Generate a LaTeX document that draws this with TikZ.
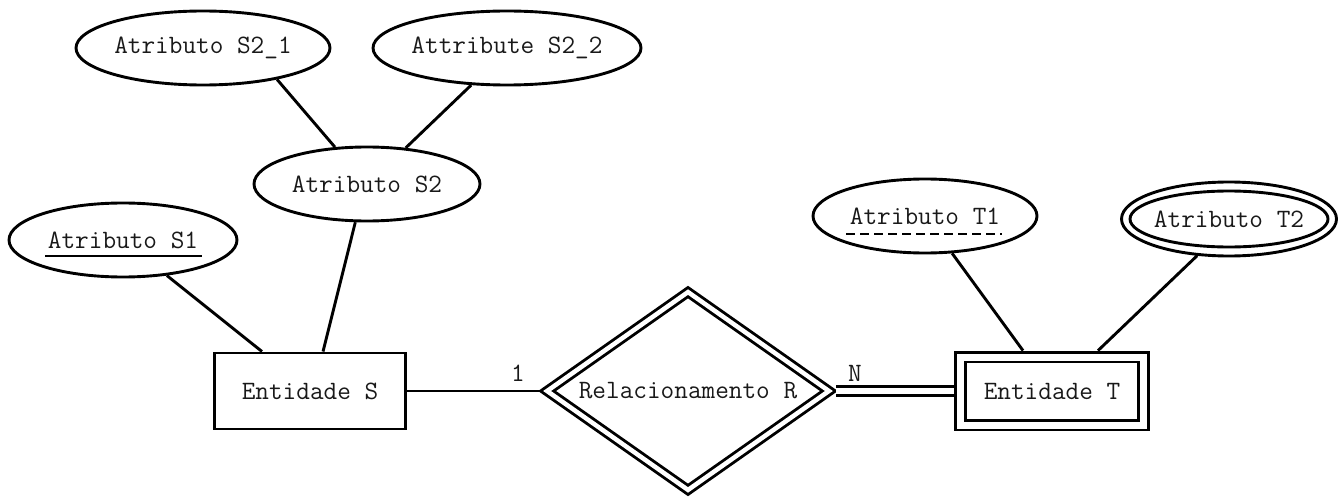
\documentclass[tikz,border=0pt]{standalone}
\usetikzlibrary{shapes.geometric}
\begin{document}
\begin{tikzpicture}[x=1pt,y=-1pt,
  lw/.style={line width=2.9pt},
  every node/.style={font=\fontsize{26.5}{30}\selectfont\ttfamily, text=black!90},
  attr/.style={ellipse, draw, lw, inner sep=0pt, minimum height=74pt},
  ent/.style={rectangle, draw, lw, inner sep=0pt},
  conn/.style={lw},
  lbl/.style={inner sep=0pt}]
\useasboundingbox (0,0) rectangle (1338,500);

% attributes
\node[attr, minimum width=254pt] (s21) at (203,48) {\makebox[0pt]{Atributo S2\_1}};
\node[attr, minimum width=268pt] (s22) at (507,48) {\makebox[0pt]{Attribute S2\_2}};
\node[attr, minimum width=226pt] (s2) at (367,184) {\makebox[0pt]{Atributo S2}};
\node[attr, minimum width=228pt] (s1) at (123,240) {\makebox[0pt]{Atributo S1}};
\node[attr, minimum width=224pt] (t1) at (925,216) {\makebox[0pt]{Atributo T1}};
\node[attr, minimum width=215pt] (t2) at (1229,219) {\makebox[0pt]{Atributo T2}};
\draw[lw] (t2.center) ellipse [x radius=99, y radius=28];

% underlines
\draw[lw] ([shift={(-78,16)}]s1.center) -- ([shift={(79,16)}]s1.center);
\draw[lw, dash pattern=on 9pt off 5pt] ([shift={(-79,18)}]t1.center) -- ([shift={(77,18)}]t1.center);

% entities and relationship
\node[ent, minimum width=191pt, minimum height=76pt] (es) at (310,391) {\makebox[0pt]{Entidade S}};
\node[diamond, draw, lw, double, double distance=4.5pt, inner sep=0pt, outer sep=5pt,
      minimum width=286pt, minimum height=202pt] (rel) at (688,391) {\makebox[0pt]{Relacionamento R}};
\node[ent, double, double distance=7pt, outer sep=6.4pt, minimum width=183pt, minimum height=68pt] (et) at (1052,391) {\makebox[0pt]{Entidade T}};

% connectors
\draw[conn] (s21.-23) -- (s2.131);
\draw[conn] (s22.226) -- (s2.43);
\draw[conn] (s2.-107) -- ([shift={(13,0)}]es.north);
\draw[conn] (s1.-39) -- ([shift={(-48,0)}]es.north);
\draw[conn] (es.east) -- (rel.west);
\draw[conn, double, double distance=6pt] (rel.east) -- (et.west);
\draw[conn] (t1.-54) -- ([shift={(-29,0)}]et.north);
\draw[conn] (t2.229) -- ([shift={(46,0)}]et.north);

% cardinalities
\node[lbl] (one) at (518,373) {1};
\node[lbl] (n) at (855,373) {N};
\end{tikzpicture}
\end{document}
